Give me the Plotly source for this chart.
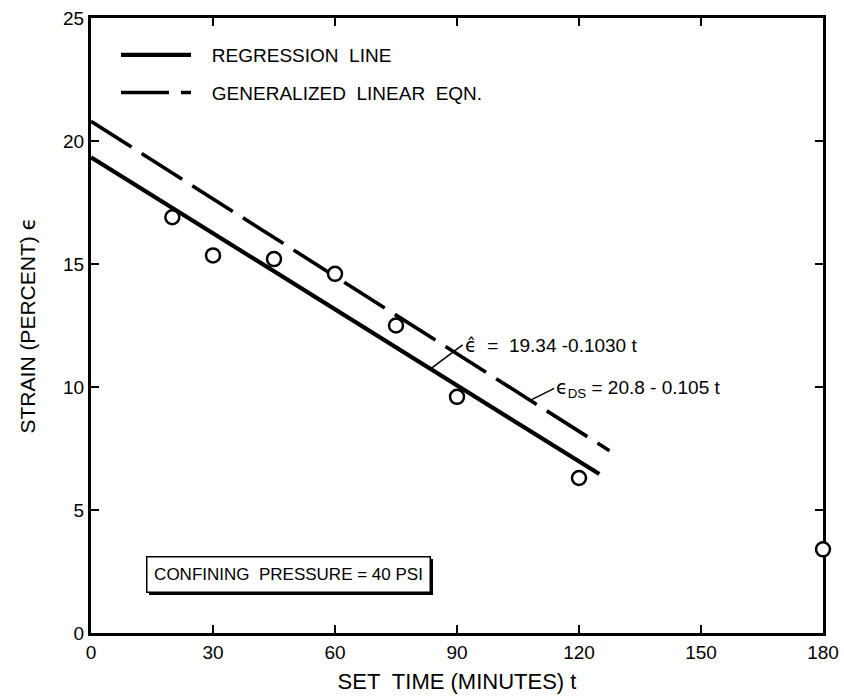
import plotly.graph_objects as go

# ---- data ----
set_time = [20, 30, 45, 60, 75, 90, 120, 180]
strain = [16.9, 15.35, 15.2, 14.6, 12.5, 9.6, 6.3, 3.4]

reg_t = [0, 125]
reg_eps = [19.34, 6.46]

gle_t = [0, 127.5]
gle_eps = [20.8, 7.41]

x_ticks = [0, 30, 60, 90, 120, 150, 180]
y_ticks = [0, 5, 10, 15, 20, 25]

FONT = "Liberation Sans"
GREEK = "DejaVu Sans"

# plot area geometry (pixels)
W, H = 844, 700
L, R, T, B = 91, 21, 18, 67
PW, PH = W - L - R, H - T - B


def pxx(p):
    return (p - L) / PW


def pxy(p):
    return (H - B - p) / PH


fig = go.Figure()

fig.add_trace(go.Scatter(
    x=reg_t, y=reg_eps, mode="lines", name="   REGRESSION  LINE",
    line=dict(color="black", width=4.2), legendgroup="a"))
fig.add_trace(go.Scatter(
    x=gle_t, y=gle_eps, mode="lines", name="   GENERALIZED  LINEAR  EQN.",
    line=dict(color="black", width=3.6, dash="48px,12px"), legendgroup="b"))
fig.add_trace(go.Scatter(
    x=set_time, y=strain, mode="markers", showlegend=False,
    marker=dict(symbol="circle", size=14, color="white",
                line=dict(color="black", width=2.5)),
    cliponaxis=False))

# leader annotations
t1 = 83.5
e1 = reg_eps[0] + (reg_eps[1] - reg_eps[0]) / (reg_t[1] - reg_t[0]) * t1
t2 = 108
e2 = gle_eps[0] + (gle_eps[1] - gle_eps[0]) / (gle_t[1] - gle_t[0]) * t2

eps_hat = f'<span style="font-family:{GREEK}">\u03f5\u0302</span>'
eps = f'<span style="font-family:{GREEK}">\u03f5</span>'

annots = [
    dict(x=t1, y=e1, xref="x", yref="y", ax=32, ay=-24,
         text=eps_hat + "  =  19.34 -0.1030 t", showarrow=True, arrowhead=0,
         arrowwidth=1.5, arrowcolor="black", xanchor="left", yanchor="middle",
         font=dict(family=FONT, size=19, color="black")),
    dict(x=t2, y=e2, xref="x", yref="y", ax=24, ay=-12,
         text=eps + "<sub>DS</sub> = 20.8 - 0.105 t", showarrow=True, arrowhead=0,
         arrowwidth=1.5, arrowcolor="black", xanchor="left", yanchor="middle",
         font=dict(family=FONT, size=19, color="black")),
    dict(x=pxx(288), y=pxy(574), xref="paper", yref="paper",
         text="CONFINING  PRESSURE = 40 PSI", showarrow=False,
         xanchor="center", yanchor="middle", width=276, height=28,
         borderpad=3, bordercolor="black", borderwidth=1.5, bgcolor="white",
         font=dict(family=FONT, size=17, color="black")),
]

# shadow behind the box
shapes = [dict(type="rect", xref="paper", yref="paper",
               x0=pxx(288 - 142 + 3), x1=pxx(288 + 142 + 3),
               y0=pxy(574 + 18 + 3), y1=pxy(574 - 18 + 3),
               fillcolor="black", line=dict(width=0), layer="above")]

fig.update_layout(
    width=W, height=H,
    margin=dict(l=L, r=R, t=T, b=B, autoexpand=False),
    paper_bgcolor="white", plot_bgcolor="white",
    font=dict(family=FONT, size=19, color="black"),
    annotations=annots, shapes=shapes,
    legend=dict(x=pxx(116), y=pxy(36), xanchor="left", yanchor="top",
                bgcolor="rgba(0,0,0,0)", itemwidth=70, tracegroupgap=10,
                font=dict(family=FONT, size=19, color="black")),
)

axis_common = dict(showline=True, linecolor="black", linewidth=3, mirror="ticks",
                   ticks="inside", ticklen=8, tickwidth=1.5, tickcolor="black",
                   showgrid=False, zeroline=False, layer="below traces",
                   tickfont=dict(family=FONT, size=19, color="black"))

fig.update_xaxes(range=[0, 180], tickvals=x_ticks, ticktext=[str(v) for v in x_ticks],
                 title=dict(text="SET  TIME (MINUTES) t", standoff=12,
                            font=dict(family=FONT, size=22, color="black")),
                 **axis_common)
fig.update_yaxes(range=[0, 25], tickvals=y_ticks, ticktext=[str(v) for v in y_ticks],
                 title=dict(text="STRAIN (PERCENT) " + eps, standoff=22,
                            font=dict(family=FONT, size=21, color="black")),
                 **axis_common)

fig.write_html("out.html")
